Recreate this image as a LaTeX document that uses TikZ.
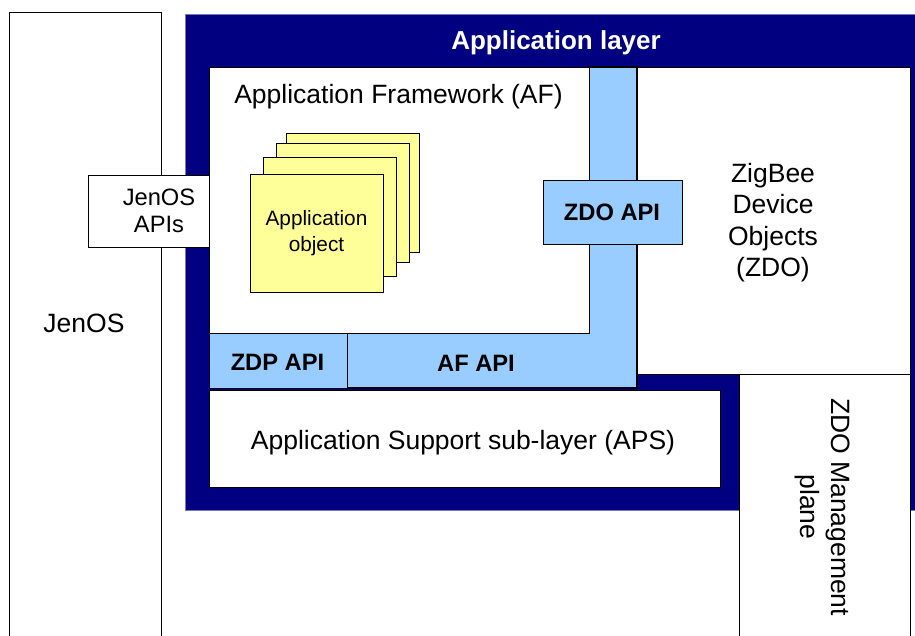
\documentclass[tikz,border=0pt]{standalone}
\usepackage{fontspec}
\setmainfont{Liberation Sans}
\definecolor{navyL}{RGB}{0,0,128}
\definecolor{navyE}{RGB}{120,120,190}
\definecolor{apiblue}{RGB}{153,204,255}
\definecolor{objyellow}{RGB}{255,255,153}
\tikzset{
  blk/.style={draw=black, line width=1.2pt, inner sep=0pt, anchor=north west},
  txt/.style={font=\fontsize{26.5}{31.5}\selectfont, align=center, inner sep=0pt},
  apitxt/.style={font=\fontsize{23.7}{28}\selectfont\bfseries, inner sep=0pt, anchor=base},
  objbox/.style={blk, fill=objyellow, minimum width=133pt, minimum height=118.5pt},
}
\begin{document}
\begin{tikzpicture}[x=1pt,y=-1pt]
\useasboundingbox (0,0) rectangle (915,635);
\clip (0,0) rectangle (915,635);
\fill[white] (0,0) rectangle (915,635);
% JenOS
\node[blk, fill=white, minimum width=152pt, minimum height=640pt] (jenos) at (9,12) {};
\node[txt, anchor=base] (jenoslbl) at (84,332.7) {JenOS};
% Application layer (navy)
\node[draw=navyE, line width=1pt, fill=navyL, anchor=north west, inner sep=0pt,
      minimum width=740pt, minimum height=496pt] (applayer) at (184.5,14) {};
\node[font=\fontsize{26}{30}\selectfont\bfseries, text=white, inner sep=0pt, anchor=base] (applbl) at (556,49) {Application layer};
% JenOS APIs
\node[blk, fill=white, minimum width=142pt, minimum height=72pt] (jenosapi) at (88,175) {};
\node[txt, font=\fontsize{23.7}{27}\selectfont] (jenosapilbl) at (159,211) {JenOS\\APIs};
% blue L (AF API + vertical strip)
\filldraw[fill=apiblue, draw=black, line width=1.2pt]
  (347,333) -- (589,333) -- (589,67) -- (637,67) -- (637,388) -- (347,388) -- cycle;
\node[apitxt] (afapi) at (476,371) {AF API};
% AF box
\node[blk, fill=white, minimum width=380pt, minimum height=266pt] (af) at (209,67) {};
\node[txt, anchor=base] (aflbl) at (398.5,103) {Application Framework (AF)};
% Application objects
\node[objbox] (obj4) at (286,133) {};
\node[objbox] (obj3) at (276,143) {};
\node[objbox] (obj2) at (263,157) {};
\node[objbox] (obj1) at (250,173.5) {};
\node[txt, font=\fontsize{20.8}{26}\selectfont] (objlbl) at (316.5,233.5) {Application\\object};
% ZDP API
\node[blk, fill=apiblue, minimum width=138pt, minimum height=55pt] (zdpapi) at (209,333) {};
\node[apitxt] (zdpapilbl) at (277.5,370) {ZDP API};
% ZDO
\node[blk, fill=white, minimum width=273pt, minimum height=307pt] (zdo) at (637,67) {};
\node[txt] (zdolbl) at (773,222.7) {ZigBee\\Device\\Objects\\(ZDO)};
% ZDO API
\node[blk, fill=apiblue, minimum width=139pt, minimum height=64pt] (zdoapi) at (543,180) {};
\node[apitxt] (zdoapilbl) at (612,220) {ZDO API};
% APS
\node[blk, fill=white, minimum width=511pt, minimum height=97pt] (aps) at (208.5,390) {};
\node[txt, anchor=base] (apslbl) at (463,449) {Application Support sub-layer (APS)};
% ZDO Management plane
\node[blk, fill=white, minimum width=171pt, minimum height=290pt] (mgmt) at (739,374) {};
\node[txt, rotate=-90] (mgmtlbl) at (822.7,507) {ZDO Management\\plane};
\end{tikzpicture}
\end{document}
